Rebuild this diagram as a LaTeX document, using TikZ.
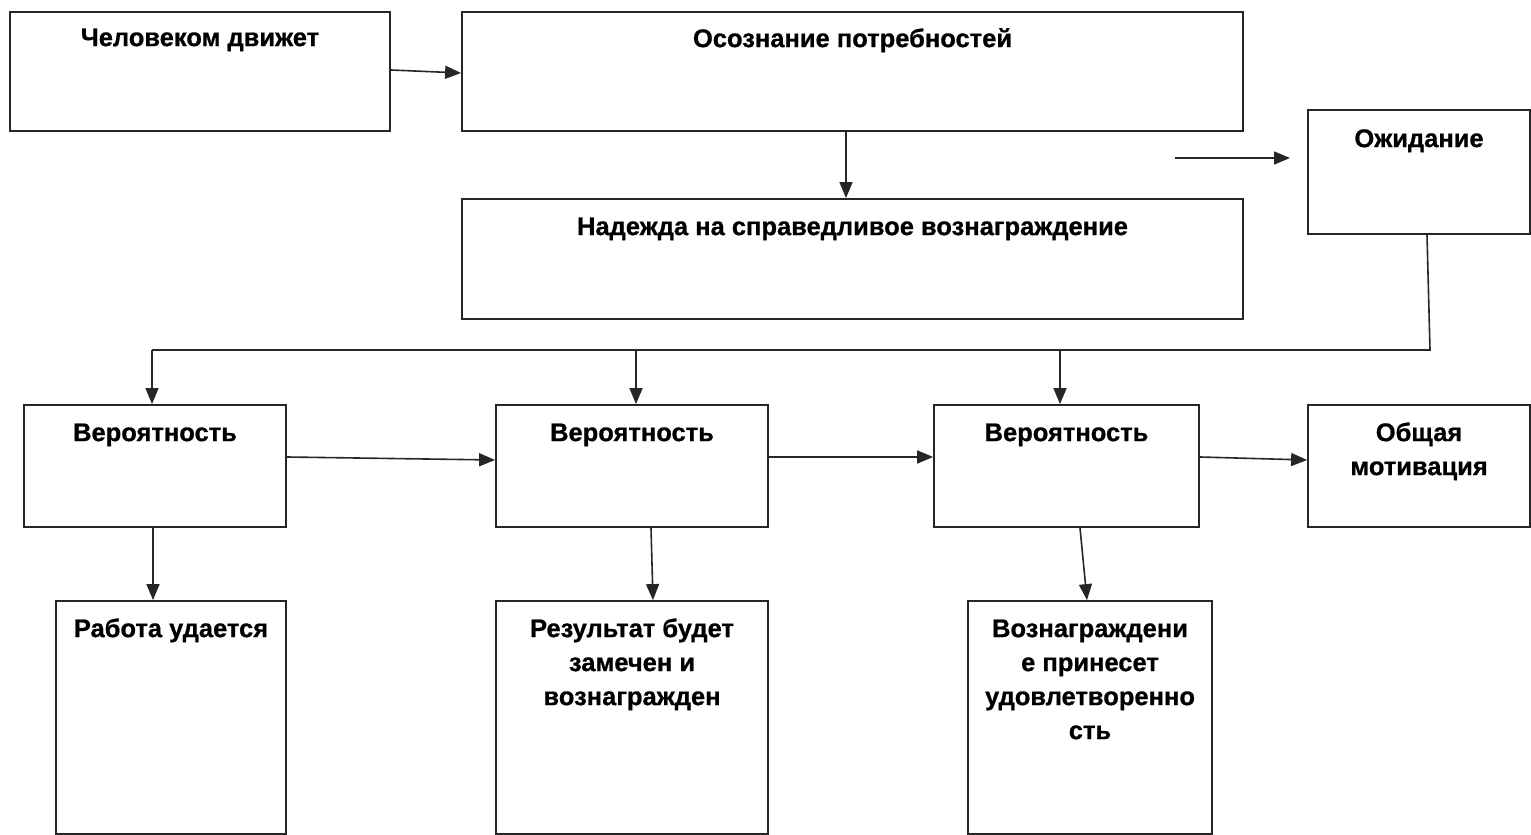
\documentclass[tikz,border=0pt]{standalone}
\usepackage{fontspec}
\setmainfont{Liberation Sans}[BoldFeatures={FakeBold=0.8}]
\usetikzlibrary{arrows.meta}
\begin{document}
\begin{tikzpicture}[x=1pt,y=1pt,
  box/.style={draw=black!85,line width=1.8pt,inner sep=0pt},
  txt/.style={font=\fontsize{25.5}{34}\selectfont\bfseries,align=center,anchor=base,inner sep=0pt},
  conn/.style={draw=black!85,line width=1.6pt,-{Triangle[length=16pt,width=13pt]}},
  plain/.style={draw=black!85,line width=1.6pt}]
\useasboundingbox (0,0) rectangle (1531,835);
% boxes
\node[box,minimum width=380pt,minimum height=119pt] (A) at (200,835-71.5) {};
\node[box,minimum width=781pt,minimum height=119pt] (B) at (852.5,835-71.5) {};
\node[box,minimum width=781pt,minimum height=120pt] (C) at (852.5,835-259) {};
\node[box,minimum width=222pt,minimum height=124pt] (D) at (1419,835-172) {};
\node[box,minimum width=262pt,minimum height=122pt] (E1) at (155,835-466) {};
\node[box,minimum width=272pt,minimum height=122pt] (E2) at (632,835-466) {};
\node[box,minimum width=265pt,minimum height=122pt] (E3) at (1066.5,835-466) {};
\node[box,minimum width=222pt,minimum height=122pt] (E4) at (1419,835-466) {};
\node[box,minimum width=230pt,minimum height=233pt] (F1) at (171,835-717.5) {};
\node[box,minimum width=272pt,minimum height=233pt] (F2) at (632,835-717.5) {};
\node[box,minimum width=244pt,minimum height=233pt] (F3) at (1090,835-717.5) {};
% texts (base anchor = baseline of last line)
\node[txt] (tA) at ([yshift=-35pt]A.north) {Человеком движет};
\node[txt] (tB) at ([yshift=-36pt]B.north) {Осознание потребностей};
\node[txt] (tC) at ([yshift=-37pt]C.north) {Надежда на справедливое вознаграждение};
\node[txt] (tD) at ([yshift=-38pt]D.north) {Ожидание};
\node[txt] (tE1) at ([yshift=-37pt]E1.north) {Вероятность};
\node[txt] (tE2) at ([yshift=-37pt]E2.north) {Вероятность};
\node[txt] (tE3) at ([yshift=-37pt]E3.north) {Вероятность};
\node[txt] (tE4) at ([yshift=-71pt]E4.north) {Общая\\мотивация};
\node[txt] (tF1) at ([yshift=-37pt]F1.north) {Работа удается};
\node[txt] (tF2) at ([yshift=-105pt]F2.north) {Результат будет\\замечен и\\вознагражден};
\node[txt] (tF3) at ([yshift=-139pt]F3.north) {Вознаграждени\\е принесет\\удовлетворенно\\сть};
% connectors
\draw[conn] ([yshift=1.5pt]A.east) -- ([yshift=-1.5pt]B.west);
\draw[conn] (B.south -| 846,0) -- (C.north -| 846,0);
\coordinate (fs) at (1175,835-158);
\coordinate (fe) at (1290,835-158);
\draw[conn] (fs) -- (fe);
\coordinate (j) at (1430,835-350);
\coordinate (jl) at (152,835-350);
\coordinate (jm) at (636,835-350);
\coordinate (jr) at (1060,835-350);
\draw[plain] (D.south -| 1427,0) -- (j) -- (jl);
\draw[conn] (jl) -- (E1.north -| jl);
\draw[conn] (jm) -- (E2.north -| jm);
\draw[conn] (jr) -- (E3.north -| jr);
\draw[conn] (E1.east |- 0,835-457) -- (E2.west |- 0,835-460);
\draw[conn] (E2.east |- 0,835-457) -- (E3.west |- 0,835-457);
\draw[conn] (E3.east |- 0,835-457) -- (E4.west |- 0,835-460);
\draw[conn] (E1.south -| 153,0) -- (F1.north -| 153,0);
\draw[conn] (E2.south -| 651,0) -- (F2.north -| 653,0);
\draw[conn] (E3.south -| 1080,0) -- (F3.north -| 1087,0);
\end{tikzpicture}
\end{document}
